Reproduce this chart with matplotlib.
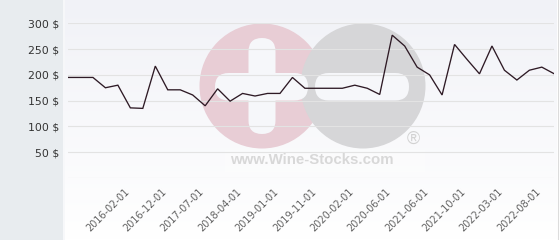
import matplotlib
matplotlib.use("Agg")
import matplotlib.pyplot as plt
import matplotlib.transforms as mtransforms
from matplotlib.patches import Rectangle, Circle, FancyBboxPatch
import numpy as np

# ---- data ----
prices = [195, 195, 195, 175, 180, 136, 135, 217, 171, 171,
          161, 140, 173, 149, 164, 159, 164, 164, 195, 174,
          174, 174, 174, 180, 174, 162, 277, 256, 215, 200,
          161, 259, 230, 202, 256, 209, 190, 209, 215, 202]
tick_index = [4, 7, 10, 13, 16, 19, 22, 25, 28, 31, 34, 37]
tick_labels = ["2016-02-01", "2016-12-01", "2017-07-01", "2018-04-01",
               "2019-01-01", "2019-11-01", "2020-02-01", "2020-06-01",
               "2021-06-01", "2021-10-01", "2022-03-01", "2022-08-01"]
y_ticks = [0, 50, 100, 150, 200, 250, 300]
y_tick_labels = ["", "50 $", "100 $", "150 $", "200 $", "250 $", "300 $"]

W, H = 560, 240
fig = plt.figure(figsize=(W / 100, H / 100), dpi=100)
fig.patch.set_facecolor("white")

# ---- background / watermark layer (pixel coordinates) ----
bg = fig.add_axes([0, 0, 1, 1], zorder=0)
bg.set_xlim(0, W)
bg.set_ylim(H, 0)
bg.axis("off")

top = np.array([241, 242, 247]) / 255
bot = np.array([255, 255, 255]) / 255
t = np.linspace(0, 1, 240)[:, None, None]
grad = top * (1 - t) + bot * t
bg.imshow(grad, extent=(63, 557, 240, 0), aspect="auto", zorder=0)
bg.add_patch(Rectangle((0, 0), 63, 240, facecolor="#e8ecef", edgecolor="none", zorder=1))
bg.plot([64, 64], [0, 240], color="#f7f8fa", lw=1.4, zorder=1)
bg.plot([557.5, 557.5], [0, 240], color="#dcdcdc", lw=0.8, zorder=1)

bg.add_patch(Circle((262, 86), 62.5, facecolor="#e8cdd5", edgecolor="none", zorder=2))
bg.add_patch(Circle((363, 86), 62.5, facecolor="#d6d6d8", edgecolor="none", zorder=3))
wcol = "#f6f7fa"
bg.add_patch(FancyBboxPatch((248.5, 38), 27, 96, boxstyle="round,pad=0,rounding_size=13.5",
                            facecolor=wcol, edgecolor="none", zorder=4))
bg.add_patch(FancyBboxPatch((215, 73), 93, 27.5, boxstyle="round,pad=0,rounding_size=13.7",
                            facecolor=wcol, edgecolor="none", zorder=4))
bg.add_patch(FancyBboxPatch((315, 73), 94, 27.5, boxstyle="round,pad=0,rounding_size=13.7",
                            facecolor=wcol, edgecolor="none", zorder=4))
bg.add_patch(Rectangle((225, 150), 200, 22, facecolor="white", alpha=0.25, edgecolor="none", zorder=4))
bg.text(312, 160.5, "www.Wine-Stocks.com", family="Liberation Sans", weight="bold",
        fontsize=10.8, color="#d8d8d8", ha="center", va="center", zorder=5)
bg.text(413, 139.5, "®", family="Liberation Sans", fontsize=13, color="#d2d2d2",
        ha="center", va="center", zorder=5)

# ---- main chart ----
x0, x1 = 68, 554.3
y_top, y_bot = 23.3, 178
ax = fig.add_axes([x0 / W, (H - y_bot) / H, (x1 - x0) / W, (y_bot - y_top) / H], zorder=2)
ax.set_facecolor("none")
x = list(range(len(prices)))
ax.plot(x, prices, color="#2e1a25", lw=0.95, solid_joinstyle="miter", zorder=3)
ax.set_xlim(0, len(prices) - 1)
ax.set_ylim(0, 300)
for s in ax.spines.values():
    s.set_visible(False)
ax.set_yticks(y_ticks)
ax.set_yticklabels(y_tick_labels, fontsize=7.8, color="#333333", family="DejaVu Sans")
ax.grid(axis="y", color="#e3e3e3", lw=0.8)
ax.set_axisbelow(True)
ax.tick_params(axis="y", length=0, pad=6.5)
ax.set_xticks(tick_index)
ax.set_xticklabels(tick_labels, rotation=45, ha="right", rotation_mode="anchor",
                   fontsize=7.0, color="#606060", family="DejaVu Sans")
ax.tick_params(axis="x", length=0, pad=6)
offset = mtransforms.ScaledTranslation(6 / 100, 0, fig.dpi_scale_trans)
for lbl in ax.get_xticklabels():
    lbl.set_transform(lbl.get_transform() + offset)

fig.savefig("out.png", dpi=100)
